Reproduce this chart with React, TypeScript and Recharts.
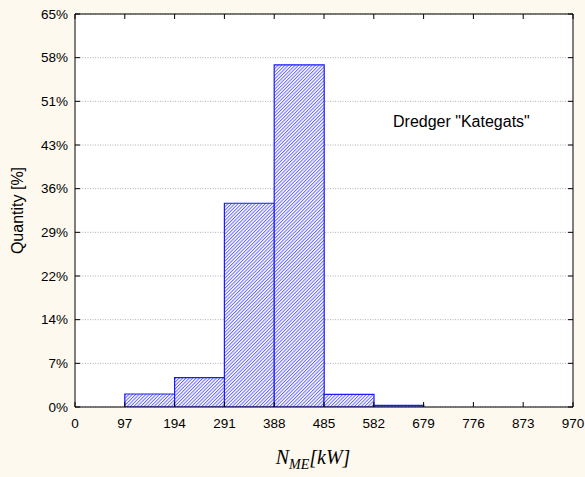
import React from 'react';
import { ComposedChart, Bar, Line, XAxis, YAxis, CartesianGrid } from 'recharts';

const binMids = [48.5, 145.5, 242.5, 339.5, 436.5, 533.5, 630.5, 727.5, 824.5, 921.5];
const quantities = [0, 2.15, 4.85, 33.7, 56.6, 2.1, 0.28, 0, 0, 0];
const xTicks = [0, 97, 194, 291, 388, 485, 582, 679, 776, 873, 970];
const yTicks = [0, 7.2222, 14.4444, 21.6667, 28.8889, 36.1111, 43.3333, 50.5556, 57.7778, 65];
const yTickLabels = ['0%', '7%', '14%', '22%', '29%', '36%', '43%', '51%', '58%', '65%'];
const annotation = 'Dredger "Kategats"';
const yTitle = 'Quantity [%]';

const data = binMids.map((mid, i) => ({ mid, q: quantities[i] }));

const BG = '#fef9ee';
const FONT = '"Liberation Sans", Arial, sans-serif';

const XTitle = (props: any) => {
  const vb = props.viewBox || { y: 407 };
  const y = vb.y + 57;
  return (
    <text x={313} y={y} textAnchor="middle" fontFamily='"Liberation Serif", "Times New Roman", serif' fontStyle="italic" fill="#000">
      <tspan fontSize={20}>N</tspan>
      <tspan fontSize={14} dy={5}>ME</tspan>
      <tspan fontSize={20} dy={-5}>[kW]</tspan>
    </text>
  );
};

export default function App() {
  return (
    <div style={{ position: 'absolute', left: 0, top: 0, width: 585, height: 477, background: BG }}>
      <svg width={0} height={0} style={{ position: 'absolute' }}>
        <defs>
          <pattern id="hatch" width={2.4} height={2.4} patternUnits="userSpaceOnUse" patternTransform="rotate(45)">
            <rect width={2.4} height={2.4} fill="#ffffff" />
            <line x1={0.5} y1={0} x2={0.5} y2={2.4} stroke="#5a5aff" strokeWidth={0.9} />
          </pattern>
        </defs>
      </svg>
      <ComposedChart
        width={585}
        height={477}
        data={data}
        margin={{ top: 0, right: 0, bottom: 0, left: 0 }}
        barCategoryGap={0}
        barGap={0}
        style={{ fontFamily: FONT }}
      >
        <CartesianGrid xAxisId="num" yAxisId="left" vertical={false} horizontal={true} fill="#ffffff" stroke="#b0b0b0" strokeDasharray="1 1.5" />
        <XAxis
          xAxisId="num"
          dataKey="mid"
          type="number"
          domain={[0, 970]}
          ticks={xTicks}
          interval={0}
          allowDataOverflow
          height={70}
          tickSize={-5}
          tickMargin={16}
          stroke="#000"
          tick={{ fill: '#000', fontSize: 13.5, fontFamily: FONT }}
          label={<XTitle />}
        />
        <XAxis
          xAxisId="top"
          dataKey="mid"
          orientation="top"
          type="number"
          domain={[0, 970]}
          ticks={xTicks}
          interval={0}
          allowDataOverflow
          height={14}
          tickSize={-5}
          stroke="#000"
          tickFormatter={() => ''}
        />
        <YAxis
          yAxisId="left"
          type="number"
          domain={[0, 65]}
          ticks={yTicks}
          interval={0}
          allowDataOverflow
          width={75}
          tickSize={-5}
          tickMargin={12}
          stroke="#000"
          tick={{ fill: '#000', fontSize: 13.5, fontFamily: FONT }}
          tickFormatter={(v: number, i: number) => yTickLabels[i]}
          label={{ value: yTitle, angle: -90, position: 'insideLeft', offset: 0, dx: 17, style: { textAnchor: 'middle', fill: '#000', fontSize: 16, fontFamily: FONT } }}
        />
        <YAxis
          yAxisId="right"
          orientation="right"
          type="number"
          domain={[0, 65]}
          ticks={yTicks}
          interval={0}
          allowDataOverflow
          width={12}
          tickSize={-5}
          stroke="#000"
          tickFormatter={() => ''}
        />
        <Bar dataKey="q" xAxisId="num" yAxisId="left" fill="url(#hatch)" stroke="#1a1aff" strokeWidth={1.2} isAnimationActive={false} />
        <Line dataKey="q" xAxisId="top" yAxisId="right" stroke="none" dot={false} activeDot={false} isAnimationActive={false} />
      </ComposedChart>
      <svg width={585} height={477} style={{ position: 'absolute', left: 0, top: 0, pointerEvents: 'none' }}>
        <text x={393} y={127} fontSize={16} fontFamily={FONT} fill="#000">{annotation}</text>
      </svg>
    </div>
  );
}
